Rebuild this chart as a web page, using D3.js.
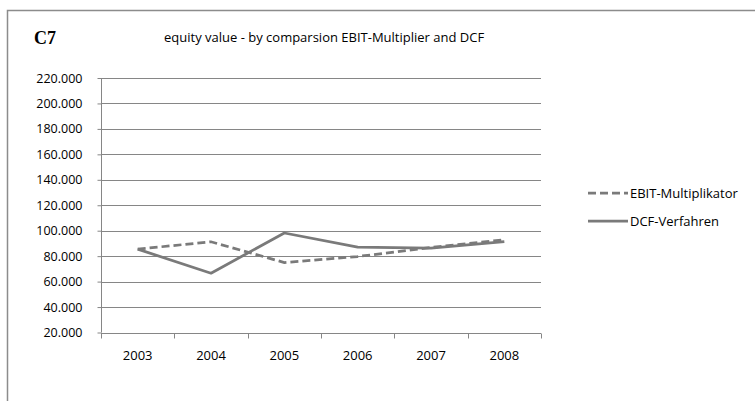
<!DOCTYPE html>
<html>
<head>
<meta charset="utf-8">
<script src="https://cdn.jsdelivr.net/npm/d3@7"></script>
<style>
  html, body { margin: 0; padding: 0; background: #fff; }
  svg { display: block; }
</style>
</head>
<body>
<svg id="chart" width="755" height="401"></svg>
<script>
// Years on the category axis
const years = ["2003", "2004", "2005", "2006", "2007", "2008"];
// Equity value by EBIT multiplier method
const ebitMultiplikator = [85500, 91300, 75000, 79700, 86800, 92900];
// Equity value by discounted cash flow method
const dcfVerfahren = [85500, 66600, 98200, 87100, 86300, 91500];
// Value axis ticks
const yTicks = [20000, 40000, 60000, 80000, 100000, 120000, 140000, 160000, 180000, 200000, 220000];

const seriesNames = ["EBIT-Multiplikator", "DCF-Verfahren"];

const de = d3.formatLocale({ decimal: ",", thousands: ".", grouping: [3], currency: ["", " €"] });
const fmt = de.format(",d");

const svg = d3.select("#chart");
const font = "'Open Sans', 'Noto Sans', sans-serif";
const fs = 13;

// Outer frame
svg.append("path")
  .attr("d", "M7.5,401 L7.5,10.5 L755,10.5")
  .attr("fill", "none")
  .attr("stroke", "#8c8c8c")
  .attr("stroke-width", 1.5);

// Titles
svg.append("text")
  .attr("x", 34).attr("y", 44)
  .attr("font-family", "'Liberation Serif', 'Times New Roman', serif")
  .attr("font-weight", "bold")
  .attr("font-size", 18)
  .attr("fill", "#000")
  .text("C7");

svg.append("text")
  .attr("x", 164).attr("y", 42)
  .attr("font-family", font)
  .attr("font-size", fs)
  .attr("fill", "#000")
  .text("equity value - by comparsion EBIT-Multiplier and DCF");

const margin = { left: 101, right: 541, top: 78, bottom: 332.5 };

const x = d3.scaleBand().domain(years).range([margin.left, margin.right]);
const y = d3.scaleLinear().domain([20000, 220000]).range([margin.bottom, margin.top]);

const axisColor = "#868686";

// Horizontal gridlines
svg.append("g")
  .selectAll("line")
  .data(yTicks.slice(1))
  .join("line")
  .attr("x1", margin.left).attr("x2", margin.right)
  .attr("y1", d => Math.round(y(d)) + 0.5).attr("y2", d => Math.round(y(d)) + 0.5)
  .attr("stroke", axisColor).attr("stroke-width", 1);

// Value axis
const yAxis = svg.append("g")
  .attr("transform", `translate(${margin.left + 0.5},0)`)
  .call(d3.axisLeft(y).tickValues(yTicks).tickFormat(fmt).tickSize(4).tickPadding(15));
yAxis.select(".domain").attr("stroke", axisColor).attr("d", `M0,${y(220000)}V${y(20000)}`);
yAxis.selectAll(".tick line").attr("stroke", axisColor);
yAxis.selectAll(".tick text")
  .attr("font-family", font).attr("font-size", 12.5).attr("fill", "#000");

// Category axis
const xAxis = svg.append("g")
  .attr("transform", `translate(0,${Math.round(y(20000)) + 0.5})`);
xAxis.append("line")
  .attr("x1", margin.left).attr("x2", margin.right)
  .attr("stroke", axisColor);
const bounds = years.map(d => x(d)).concat([x.range()[1]]);
xAxis.selectAll("line.tk")
  .data(bounds)
  .join("line")
  .attr("class", "tk")
  .attr("x1", d => Math.round(d) + 0.5).attr("x2", d => Math.round(d) + 0.5)
  .attr("y1", 0).attr("y2", 5)
  .attr("stroke", axisColor);
xAxis.selectAll("text")
  .data(years)
  .join("text")
  .attr("x", d => x(d) + x.bandwidth() / 2)
  .attr("y", 26)
  .attr("text-anchor", "middle")
  .attr("font-family", font).attr("font-size", fs).attr("fill", "#000")
  .text(d => d);

// Series lines
const lineColor = "#7a7a7a";
const line = d3.line()
  .x((d, i) => x(years[i]) + x.bandwidth() / 2)
  .y(d => y(d));

svg.append("path")
  .datum(dcfVerfahren)
  .attr("d", line)
  .attr("fill", "none")
  .attr("stroke", lineColor)
  .attr("stroke-width", 2.75)
  .attr("stroke-linejoin", "round");

svg.append("path")
  .datum(ebitMultiplikator)
  .attr("d", line)
  .attr("fill", "none")
  .attr("stroke", lineColor)
  .attr("stroke-width", 2.75)
  .attr("stroke-dasharray", "8,4");

// Legend
const legend = svg.append("g");
const legendItems = [
  { name: seriesNames[0], dash: "8,4", y: 193 },
  { name: seriesNames[1], dash: null, y: 221 }
];
legendItems.forEach(it => {
  legend.append("line")
    .attr("x1", 588).attr("x2", 628)
    .attr("y1", it.y).attr("y2", it.y)
    .attr("stroke", lineColor).attr("stroke-width", 2.75)
    .attr("stroke-dasharray", it.dash);
  legend.append("text")
    .attr("x", 630).attr("y", it.y + 4.5)
    .attr("font-family", font).attr("font-size", fs).attr("fill", "#000")
    .text(it.name);
});
</script>
</body>
</html>
